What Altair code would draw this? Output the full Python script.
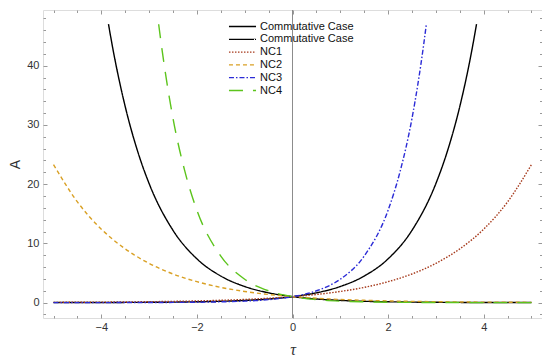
import altair as alt
import pandas as pd

# ---- data ----
cc1_tau = [-5, -4.5, -4, -3.5, -3, -2.5, -2, -1.5, -1, -0.5, 0, 0.5, 1, 1.5, 2, 2.5, 3, 3.25, 3.5, 3.75, 3.85]
cc1_A = [0.01, 0.01, 0.02, 0.03, 0.05, 0.08, 0.14, 0.22, 0.37, 0.61, 1.0, 1.65, 2.72, 4.48, 7.39, 12.2, 20.1, 25.8, 33.1, 42.5, 47.0]

cc2_tau = [-3.85, -3.75, -3.5, -3.25, -3, -2.5, -2, -1.5, -1, -0.5, 0, 0.5, 1, 1.5, 2, 2.5, 3, 3.5, 4, 4.5, 5]
cc2_A = [47.0, 42.5, 33.1, 25.8, 20.1, 12.2, 7.39, 4.48, 2.72, 1.65, 1.0, 0.61, 0.37, 0.22, 0.14, 0.08, 0.05, 0.03, 0.02, 0.01, 0.01]

nc1_tau = [-5, -4.5, -4, -3.5, -3, -2.5, -2, -1.5, -1, -0.5, 0, 0.5, 1, 1.5, 2, 2.5, 3, 3.5, 4, 4.5, 5]
nc1_A = [0.04, 0.06, 0.08, 0.11, 0.15, 0.21, 0.28, 0.39, 0.53, 0.73, 1.0, 1.37, 1.88, 2.57, 3.53, 4.83, 6.62, 9.07, 12.4, 17.0, 23.3]

nc2_tau = [-5, -4.5, -4, -3.5, -3, -2.5, -2, -1.5, -1, -0.5, 0, 0.5, 1, 1.5, 2, 2.5, 3, 3.5, 4, 4.5, 5]
nc2_A = [23.3, 17.0, 12.4, 9.07, 6.62, 4.83, 3.53, 2.57, 1.88, 1.37, 1.0, 0.73, 0.53, 0.39, 0.28, 0.21, 0.15, 0.11, 0.08, 0.06, 0.04]

nc3_tau = [-5, -4.5, -4, -3.5, -3, -2.5, -2, -1.5, -1, -0.5, 0, 0.5, 1, 1.5, 2, 2.25, 2.5, 2.75, 2.8]
nc3_A = [0.0, 0.0, 0.0, 0.01, 0.02, 0.03, 0.06, 0.13, 0.25, 0.5, 1.0, 1.99, 3.95, 7.86, 15.6, 22.1, 31.1, 43.9, 47.0]

nc4_tau = [-2.8, -2.75, -2.5, -2.25, -2, -1.5, -1, -0.5, 0, 0.5, 1, 1.5, 2, 2.5, 3, 3.5, 4, 4.5, 5]
nc4_A = [47.0, 43.9, 31.1, 22.1, 15.6, 7.86, 3.95, 1.99, 1.0, 0.5, 0.25, 0.13, 0.06, 0.03, 0.02, 0.01, 0.0, 0.0, 0.0]

series_keys = ["CC1", "CC2", "NC1", "NC2", "NC3", "NC4"]
series_colors = ["#000000", "#000000", "#A63A1C", "#D9A024", "#2B2BD6", "#5CC41C"]
series_dashes = [[1, 0], [1, 0], [1.5, 1.5], [4, 3], [5, 2, 1.5, 2], [14, 10]]

x_major = [-4, -2, 0, 2, 4]
x_minor = [-5, -4.5, -3.5, -3, -2.5, -1.5, -1, -0.5, 0.5, 1, 1.5, 2.5, 3, 3.5, 4.5, 5]
y_major = [0, 10, 20, 30, 40]
y_minor = [-2, 2, 4, 6, 8, 12, 14, 16, 18, 22, 24, 26, 28, 32, 34, 36, 38, 42, 44, 46, 48]
zero_line = [0]

# ---- build table ----
rows = []
for key, ts, vs in zip(series_keys,
                       [cc1_tau, cc2_tau, nc1_tau, nc2_tau, nc3_tau, nc4_tau],
                       [cc1_A, cc2_A, nc1_A, nc2_A, nc3_A, nc4_A]):
    for t, v in zip(ts, vs):
        rows.append({"series": key, "tau": t, "A": v})
df = pd.DataFrame(rows)

xscale = alt.Scale(domain=[-5.22, 5.22], nice=False, zero=False)
yscale = alt.Scale(domain=[-2.6, 49.4], nice=False, zero=False)

frame_col = "#999999"
text_col = "#333333"

def tick_axis(orient, values, size):
    return alt.Axis(orient=orient, values=values, labels=False, domain=False, grid=False,
                    ticks=True, tickSize=size, tickColor=frame_col, offset=-size, title=None)

lines = alt.Chart(df).mark_line(strokeWidth=1.4, interpolate="monotone", clip=True).encode(
    x=alt.X("tau:Q", scale=xscale,
            axis=alt.Axis(orient="bottom", values=x_major, ticks=False, domain=False, grid=False,
                          labelFontSize=11, labelColor=text_col, labelPadding=3,
                          title="τ", titleFontSize=16, titleFontStyle="italic", titleFontWeight="normal",
                          titleColor=text_col, titlePadding=9, labelFont="Liberation Sans",
                          titleFont="Liberation Serif")),
    y=alt.Y("A:Q", scale=yscale,
            axis=alt.Axis(orient="left", values=y_major, ticks=False, domain=False, grid=False,
                          labelFontSize=11, labelColor=text_col, labelPadding=4,
                          title="A", titleFontSize=14, titleFontWeight="normal", titleColor=text_col,
                          titlePadding=4, labelFont="Liberation Sans", titleFont="Liberation Sans")),
    color=alt.Color("series:N", scale=alt.Scale(domain=series_keys, range=series_colors),
                    legend=alt.Legend(orient="none", legendX=193, legendY=10, title=None,
                                      symbolType="M-2.5,0H2.5", symbolSize=117, symbolStrokeWidth=1.3,
                                      symbolFillColor="transparent",
                                      labelFontSize=11, labelFont="Liberation Sans", labelColor="#111111",
                                      rowPadding=0.8, padding=0, symbolOffset=0, labelOffset=11,
                                      labelExpr="indexof(datum.label,'CC')==0 ? 'Commutative Case' : datum.label")),
    strokeDash=alt.StrokeDash("series:N", scale=alt.Scale(domain=series_keys, range=series_dashes),
                              legend=None),
    order=alt.Order("series:N"),
)

def ghost(xa, ya):
    return alt.Chart(df).mark_point(opacity=0, size=1).encode(
        x=alt.X("tau:Q", scale=xscale, axis=xa),
        y=alt.Y("A:Q", scale=yscale, axis=ya),
    )

g1 = ghost(tick_axis("bottom", x_major, 4), tick_axis("left", y_major, 4))
g2 = ghost(tick_axis("bottom", x_minor, 2.5), tick_axis("left", y_minor, 2.5))
g3 = ghost(tick_axis("top", x_major, 4), tick_axis("right", y_major, 4))
g4 = ghost(tick_axis("top", x_minor, 2.5), tick_axis("right", y_minor, 2.5))

zero = alt.Chart(pd.DataFrame({"tau": zero_line})).mark_rule(color="#8c8c8c", strokeWidth=1).encode(
    x=alt.X("tau:Q", scale=xscale, axis=None),
)

chart = alt.layer(zero, g1, g2, g3, g4, lines).resolve_axis(
    x="independent", y="independent"
).properties(
    width=499, height=308,
    padding={"left": 35, "top": 2, "right": 0, "bottom": 41},
    autosize=alt.AutoSizeParams(type="none"),
).configure_view(stroke=frame_col, strokeWidth=1).configure(background="white")

chart.save("out.html", embed_options={"renderer": "svg", "actions": False})
